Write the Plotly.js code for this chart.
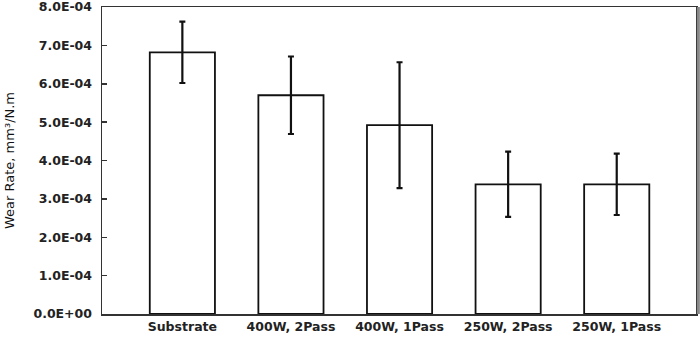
<!DOCTYPE html>
<html>
<head>
<meta charset="utf-8">
<script src="https://cdn.plot.ly/plotly-3.0.1.min.js"></script>
<style>
  html, body { margin: 0; padding: 0; background: #fff; }
  #chart { width: 700px; height: 337px; }
</style>
</head>
<body>
<div id="chart"></div>
<script>
    const categories = ['Substrate', '400W, 2Pass', '400W, 1Pass', '250W, 2Pass', '250W, 1Pass'];
    const wearRate = [6.82e-4, 5.70e-4, 4.92e-4, 3.38e-4, 3.38e-4];
    const wearError = [0.80e-4, 1.01e-4, 1.64e-4, 0.85e-4, 0.80e-4];

    const tickValues = [0, 1e-4, 2e-4, 3e-4, 4e-4, 5e-4, 6e-4, 7e-4, 8e-4];
    const tickLabels = ['0.0E+00', '1.0E-04', '2.0E-04', '3.0E-04', '4.0E-04',
                        '5.0E-04', '6.0E-04', '7.0E-04', '8.0E-04'];

    const labelFont = { family: 'DejaVu Sans', size: 12.5, color: '#222', weight: 'bold' };

    const trace = {
        type: 'bar',
        x: categories.map((_, i) => i),
        y: wearRate,
        width: 0.6,
        marker: { color: '#fff', line: { color: '#111', width: 1.8 } },
        error_y: { type: 'data', array: wearError, visible: true, color: '#111', thickness: 2.2, width: 3 },
        hoverinfo: 'skip'
    };

    const layout = {
        width: 700,
        height: 337,
        margin: { l: 102, r: 4, t: 7, b: 23 },
        paper_bgcolor: '#fff',
        plot_bgcolor: '#fff',
        showlegend: false,
        xaxis: {
            range: [-0.74, 4.73],
            tickvals: categories.map((_, i) => i),
            ticktext: categories,
            tickfont: labelFont,
            showgrid: false,
            zeroline: false,
            showline: true,
            linecolor: '#333',
            linewidth: 1.5,
            mirror: true,
            ticks: '',
            ticklen: 0
        },
        yaxis: {
            range: [0, 8e-4],
            tickvals: tickValues,
            ticktext: tickLabels,
            tickfont: labelFont,
            ticklabeloverflow: 'allow',
            ticklabelstandoff: 6,
            ticks: 'inside',
            ticklen: 5,
            tickwidth: 1.5,
            tickcolor: '#333',
            showgrid: false,
            zeroline: false,
            showline: true,
            linecolor: '#333',
            linewidth: 1.5,
            mirror: true,
            title: { text: 'Wear Rate, mm³/N.m', font: { family: 'DejaVu Sans', size: 13, color: '#111' }, standoff: 16 }
        },
        shapes: [
            { type: 'line', xref: 'paper', yref: 'paper', x0: 1.004, x1: 1.004, y0: 0, y1: 1,
              line: { color: '#888', width: 3 } }
        ]
    };

    Plotly.newPlot('chart', [trace], layout, { displayModeBar: false, staticPlot: true });
</script>
</body>
</html>
